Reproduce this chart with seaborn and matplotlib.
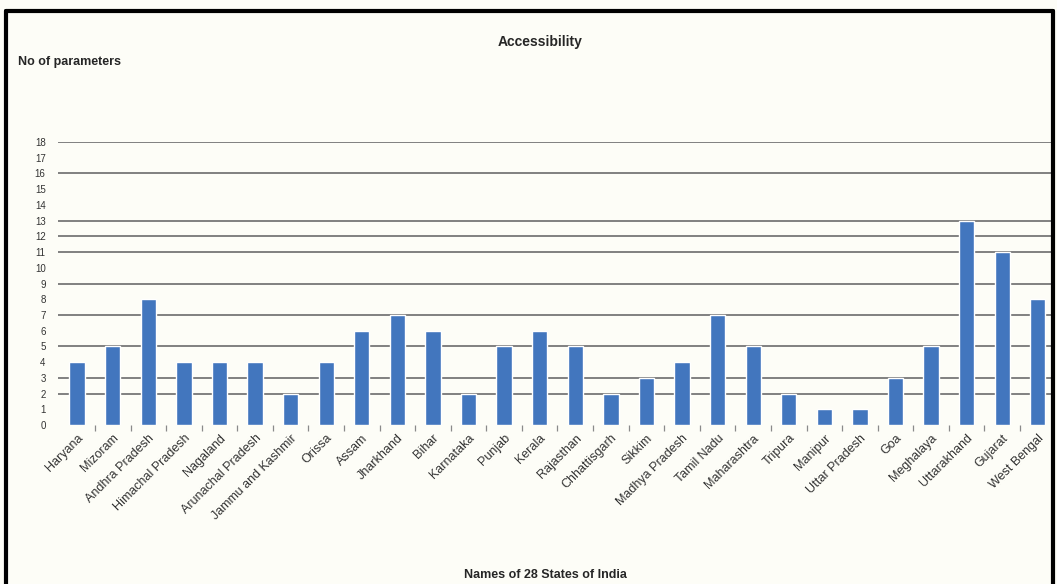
import matplotlib
matplotlib.use("Agg")
import matplotlib.pyplot as plt
import seaborn as sns
import pandas as pd
from matplotlib.lines import Line2D

# DATA
states = ["Haryana", "Mizoram", "Andhra Pradesh", "Himachal Pradesh", "Nagaland",
          "Arunachal Pradesh", "Jammu and Kashmir", "Orissa", "Assam", "Jharkhand",
          "Bihar", "Karnataka", "Punjab", "Kerala", "Rajasthan", "Chhattisgarh",
          "Sikkim", "Madhya Pradesh", "Tamil Nadu", "Maharashtra", "Tripura",
          "Manipur", "Uttar Pradesh", "Goa", "Meghalaya", "Uttarakhand",
          "Gujarat", "West Bengal"]
params = [4, 5, 8, 4, 4, 4, 2, 4, 6, 7, 6, 2, 5, 6, 5, 2, 3, 4, 7, 5, 2, 1, 1, 3, 5, 13, 11, 8]
y_ticks = list(range(0, 19))
grid_levels = [2, 3, 5, 7, 9, 11, 12, 13, 16, 18]

df = pd.DataFrame({"State": states, "Parameters": params})

bg = "#fdfdf7"
sns.set_style("white")
plt.rcParams["font.family"] = ["Liberation Sans", "DejaVu Sans"]

fig = plt.figure(figsize=(10.57, 5.84), dpi=100, facecolor=bg)
ax = fig.add_axes([0.055, 0.272, 0.94, 0.485], facecolor=bg)

# gridlines (only the ones visible in the source)
for g in grid_levels:
    ax.axhline(g, color="#808080", lw=1.4, zorder=0)

sns.barplot(data=df, x="State", y="Parameters", color="#4276BE", width=0.43,
            saturation=1, ax=ax, zorder=2)

ax.set_ylim(0, 18)
ax.set_xlim(-0.534, 27.39)
ax.set_yticks(y_ticks)
ax.set_yticklabels([str(t) for t in y_ticks], fontsize=7, color="#333333")
ax.tick_params(axis="y", length=0, pad=9)
ax.set_xticks(range(len(states)))
ax.set_xticklabels(states, rotation=45, ha="right", rotation_mode="anchor",
                   fontsize=9, color="#333333")
ax.tick_params(axis="x", which="major", length=0, pad=5)
ax.set_xticks([i + 0.5 for i in range(len(states) - 1)], minor=True)
ax.tick_params(axis="x", which="minor", bottom=True, length=4, width=0.9,
               color="#8a8a8a", direction="out", pad=0)
for s in ax.spines.values():
    s.set_visible(False)
ax.set_xlabel("")
ax.set_ylabel("")

fig.text(0.511, 0.928, "Accessibility", fontsize=10, fontweight="bold", ha="center", va="center")
fig.text(0.017, 0.893, "No of parameters", fontsize=9, fontweight="bold", ha="left", va="center")
fig.text(0.516, 0.016, "Names of 28 States of India", fontsize=9, fontweight="bold", ha="center", va="center")

# outer frame
fig.add_artist(Line2D([0.006, 0.006], [0.0, 0.982], transform=fig.transFigure, color="black", lw=3))
fig.add_artist(Line2D([0.006, 0.996], [0.982, 0.982], transform=fig.transFigure, color="black", lw=3))
fig.add_artist(Line2D([0.996, 0.996], [0.0, 0.982], transform=fig.transFigure, color="black", lw=3))

fig.savefig("out.png", dpi=100, facecolor=bg)
